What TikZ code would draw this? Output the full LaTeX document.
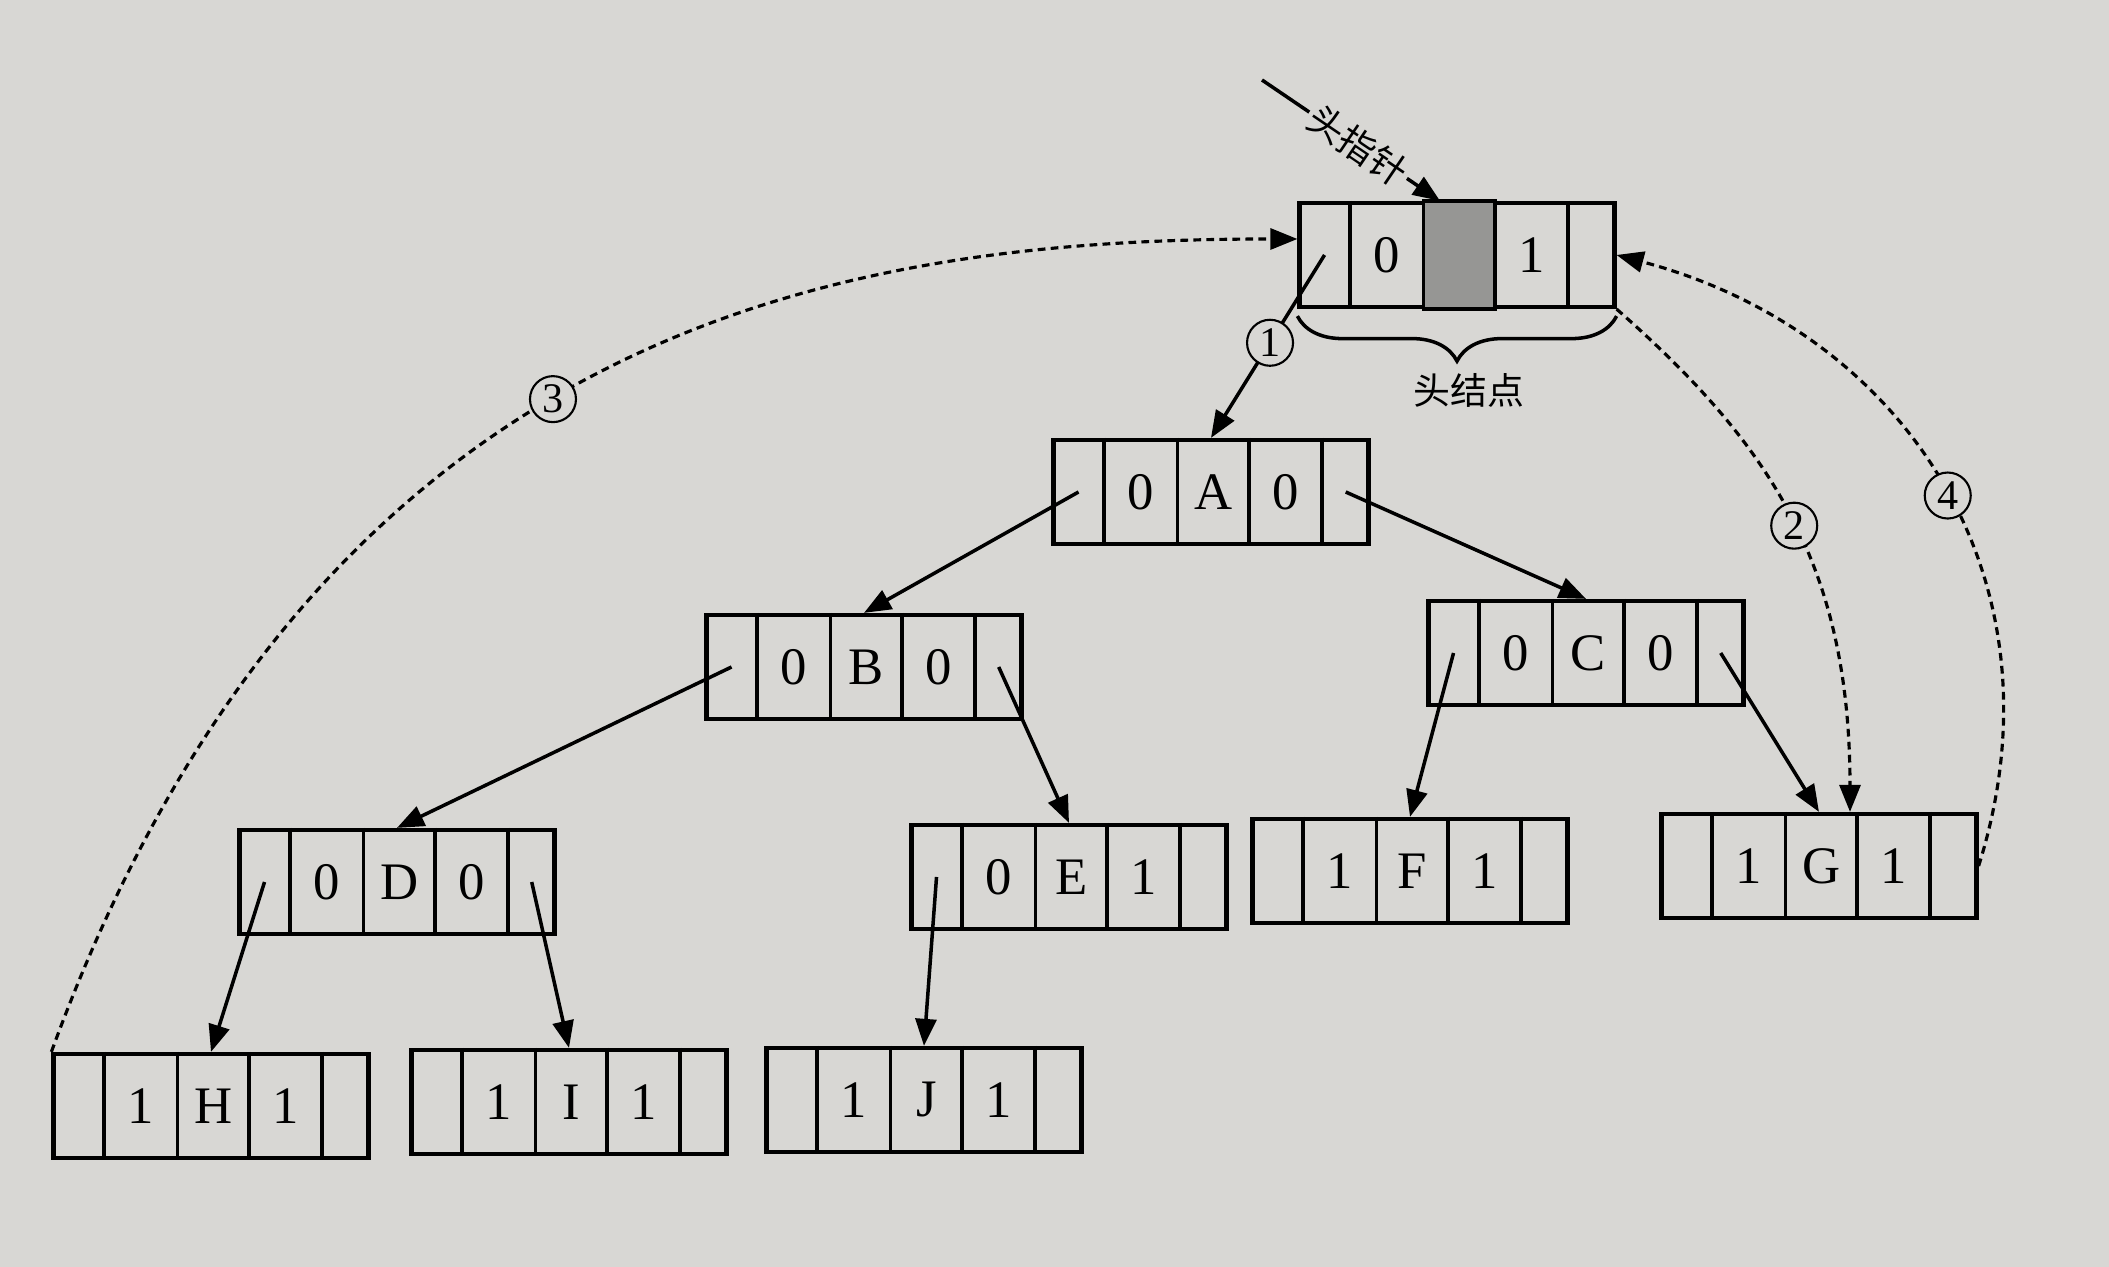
\documentclass[tikz,border=0pt]{standalone}
\usepackage{fontspec}
\usepackage{tikz}
\usetikzlibrary{calc,arrows.meta,decorations.pathreplacing}
\setmainfont{Liberation Serif}
\newfontfamily\zhfont{Noto Sans CJK SC}
\definecolor{paper}{RGB}{216,215,212}
\definecolor{hatchgray}{RGB}{150,150,148}

% one thread node: name, centre, ltag, data, rtag
\newcommand{\threadnode}[5]{%
  \node[cellbox] (#1) at (#2) {};
  \foreach \f in {0.165,0.395,0.62,0.848}
    \draw[cellrule] ($(#1.north west)!\f!(#1.north east)$) -- ($(#1.south west)!\f!(#1.south east)$);
  \node[celltext] (#1-ltag) at ($(#1.west)!0.28!(#1.east)$) {#3};
  \node[celltext] (#1-data) at ($(#1.west)!0.5075!(#1.east)$) {#4};
  \node[celltext] (#1-rtag) at ($(#1.west)!0.734!(#1.east)$) {#5};
  \coordinate (#1-l) at ($(#1.west)!0.085!(#1.east)$);
  \coordinate (#1-r) at ($(#1.west)!0.922!(#1.east)$);
}

\begin{document}
\begin{tikzpicture}[
  cellbox/.style={draw, line width=1.2pt, minimum width=3.15cm,
    minimum height=1.04cm, inner sep=0pt},
  cellrule/.style={line width=1.1pt},
  celltext/.style={font=\fontsize{15}{18}\selectfont, inner sep=0pt},
  ptr/.style={-{Triangle[length=0.27cm,width=0.21cm]}, line width=1pt},
  thread/.style={ptr, line width=0.9pt, dash pattern=on 2.2pt off 1.5pt},
  circnum/.style={draw, circle, solid, line width=0.6pt, fill=paper,
    inner sep=0pt, minimum size=0.46cm, font=\fontsize{12}{14}\selectfont},
  zhlabel/.style={font=\zhfont\fontsize{10.5}{12}\selectfont},
]
  \fill[paper] (0,0) rectangle (21.09,12.67);
  \useasboundingbox (0,0) rectangle (21.09,12.67);

  % head node and tree
  \threadnode{head}{14.57,10.12}{0}{}{1}
  \draw[cellrule, fill=hatchgray] ($(head.north west)!0.395!(head.north east)$)
    rectangle ($(head.south west)!0.62!(head.south east)$);
  \threadnode{A}{12.11,7.75}{0}{A}{0}
  \threadnode{B}{8.64,6.00}{0}{B}{0}
  \threadnode{C}{15.86,6.14}{0}{C}{0}
  \threadnode{D}{3.97,3.85}{0}{D}{0}
  \threadnode{E}{10.69,3.90}{0}{E}{1}
  \threadnode{F}{14.10,3.96}{1}{F}{1}
  \threadnode{G}{18.19,4.01}{1}{G}{1}
  \threadnode{H}{2.11,1.61}{1}{H}{1}
  \threadnode{I}{5.69,1.65}{1}{I}{1}
  \threadnode{J}{9.24,1.67}{1}{J}{1}

  % head pointer
  \coordinate (hp) at (12.62,11.87);
  \draw[ptr] (hp) -- node[zhlabel, sloped, pos=0.54, fill=paper, inner sep=1pt] (hptext) {头指针}
    ([xshift=-0.17cm]head.north);

  \draw[decorate, decoration={brace, mirror, amplitude=0.45cm}, line width=1pt]
    ([yshift=-0.07cm]head.south west) -- node[zhlabel, below=0.44cm, xshift=0.12cm] (hlabel) {头结点}
    ([yshift=-0.07cm]head.south east);

  % child links
  \draw[ptr] (head-l) -- node[circnum, pos=0.48] (n1) {1} (A.north);
  \draw[ptr] (A-l) -- (B.north);
  \draw[ptr] (A-r) -- (C.north);
  \draw[ptr] (B-l) -- (D.north);
  \draw[ptr] (B-r) -- (E.north);
  \draw[ptr] (C-l) -- (F.north);
  \draw[ptr] (C-r) -- (G.north);
  \draw[ptr] (D-l) -- (H.north);
  \draw[ptr] (D-r) -- (I.north);
  \draw[ptr] (E-l) -- (J.north);

  % threads
  \draw[thread] (head.south east) .. controls +(1.5,-1.32) and +(0,2.5) ..
    ([xshift=0.31cm]G.north) node[circnum, pos=0.52] (n2) {2};
  \draw[thread] (H.north west) .. controls +(2.67,7.33) and +(-4.5,0) ..
    ([yshift=0.16cm]head.west) node[circnum, pos=0.46] (n3) {3};
  \draw[thread] (G.east) .. controls +(0.9,2.85) and +(2.9,-0.77) ..
    (head.east) node[circnum, pos=0.48] (n4) {4};
\end{tikzpicture}
\end{document}
